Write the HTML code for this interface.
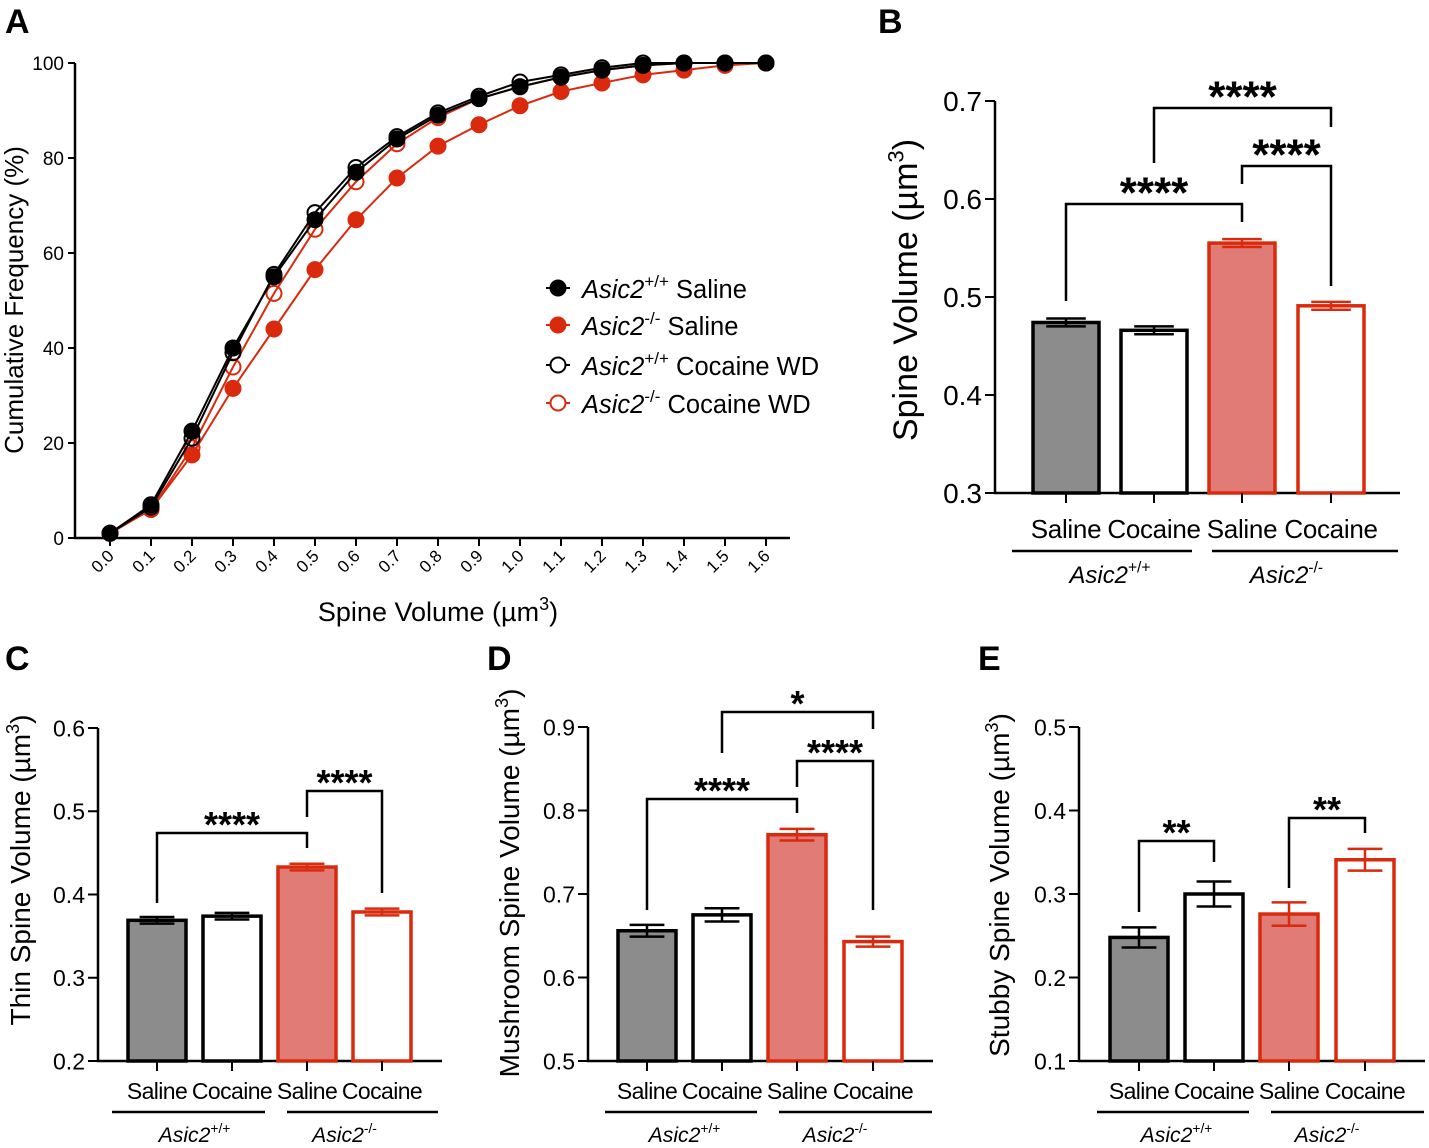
<!DOCTYPE html>
<html><head><meta charset="utf-8"><style>
body{margin:0;background:#fff;}
svg{display:block;font-family:"Liberation Sans",Arial,sans-serif;}
</style></head><body>
<svg id="fig" width="1429" height="1148" viewBox="0 0 1429 1148"></svg>
<script>
// ---- Panel A data ----
const xValsA = [0.0,0.1,0.2,0.3,0.4,0.5,0.6,0.7,0.8,0.9,1.0,1.1,1.2,1.3,1.4,1.5,1.6];
const wtSaline = [1,7,22.5,40,55,67,77,84,89,92.5,95,97,98.5,99.5,100,100,100];
const wtCocaine = [1,6.5,21,39,55.5,68.5,78,84.5,89.5,93,96,97.5,99,100,100,100,100];
const koCocaine = [1,6,19,36,51.5,65,75,83,88.5,92.5,95,97,98.5,99.5,100,100,100];
const koSaline = [1,6,17.5,31.5,44,56.5,67,75.8,82.5,87,91,94,95.8,97.5,98.5,99.5,100];
const yTicksA = [0,20,40,60,80,100];
const xTickLabelsA = ["0.0","0.1","0.2","0.3","0.4","0.5","0.6","0.7","0.8","0.9","1.0","1.1","1.2","1.3","1.4","1.5","1.6"];
// ---- Bar panels data ----
const barCats = ["Saline","Cocaine","Saline","Cocaine"];
const valsB = [0.474,0.466,0.555,0.491];
const errB = [0.004,0.004,0.004,0.004];
const ticksB = [0.3,0.4,0.5,0.6,0.7];
const valsC = [0.369,0.374,0.433,0.379];
const errC = [0.004,0.004,0.004,0.004];
const ticksC = [0.2,0.3,0.4,0.5,0.6];
const valsD = [0.656,0.675,0.771,0.643];
const errD = [0.007,0.008,0.007,0.006];
const ticksD = [0.5,0.6,0.7,0.8,0.9];
const valsE = [0.248,0.300,0.276,0.341];
const errE = [0.012,0.015,0.014,0.013];
const ticksE = [0.1,0.2,0.3,0.4,0.5];

const NS="http://www.w3.org/2000/svg";
const svg=document.getElementById('fig');
const RED="#d92a0e", PINK="#e07b76", GRAY="#8c8c8c";
function el(tag,attrs,parent,text){const e=document.createElementNS(NS,tag);for(const k in attrs)e.setAttribute(k,attrs[k]);if(text!==undefined)e.textContent=text;(parent||svg).appendChild(e);return e;}

// panel letters
[["A",5,33],["B",878,33],["C",5,670],["D",487,670],["E",978,670]].forEach(p=>{
  const t=el('text',{x:p[1],y:p[2],'font-size':34,'font-weight':'bold'},svg,p[0]);
  
  
});

// ---- Panel A ----
(function(){
  const g=el('g',{});
  
  
  const x=v=>110+(v/0.1)*41, y=v=>538-v*4.75;
  const ax=el('path',{d:`M75,63 V538 H790`,stroke:'#000','stroke-width':2.5,fill:'none'},g);
  
  
  yTicksA.forEach(v=>{
    el('line',{x1:68,x2:75,y1:y(v),y2:y(v),stroke:'#000','stroke-width':2},g);
    const t=el('text',{x:64,y:y(v)+7,'font-size':19,'text-anchor':'end'},g,String(v));
    
    
  });
  xValsA.forEach((v,i)=>{
    el('line',{x1:x(v),x2:x(v),y1:538,y2:546,stroke:'#000','stroke-width':2},g);
    const t=el('text',{x:x(v)+5,y:557,'font-size':17,'text-anchor':'end',transform:`rotate(-45 ${x(v)+5} 557)`},g,xTickLabelsA[i]);
    
    
  });
  const yt=el('text',{x:0,y:0,'font-size':26,'text-anchor':'middle',transform:'translate(23 300) rotate(-90)'},g,'Cumulative Frequency (%)');
  
  
  const xt=el('text',{x:438,y:621,'font-size':27,'text-anchor':'middle'},g);
  
  
  xt.innerHTML='Spine Volume (µm<tspan dy="-11" font-size="18">3</tspan><tspan dy="11">)</tspan>';
  const series=[[koSaline,RED,true,'ko-saline'],[koCocaine,RED,false,'ko-cocaine'],[wtSaline,'#000',true,'wt-saline'],[wtCocaine,'#000',false,'wt-cocaine']];
  series.forEach(s=>{
    const d=s[0].map((v,i)=>(i?'L':'M')+x(xValsA[i])+','+y(v)).join(' ');
    const ln=el('path',{d,stroke:s[1],'stroke-width':2,fill:'none'},g);
    
    
    s[0].forEach((v,i)=>{
      const c=el('circle',{cx:x(xValsA[i]),cy:y(v),r:s[2]?8:7.5,fill:s[2]?s[1]:'none',stroke:s[1],'stroke-width':s[2]?1:2},g);
      
      
    });
  });
  const leg=[['#000',true,'+/+','Saline',290],[RED,true,'-/-','Saline',327],['#000',false,'+/+','Cocaine WD',367],[RED,false,'-/-','Cocaine WD',405]];
  leg.forEach((L,i)=>{
    const lg=el('g',{},g);
    
    
    el('line',{x1:546,x2:570,y1:L[4]-2,y2:L[4]-2,stroke:L[0],'stroke-width':2},lg);
    el('circle',{cx:558,cy:L[4]-2,r:L[1]?8:7.5,fill:L[1]?L[0]:'#fff',stroke:L[0],'stroke-width':L[1]?1:2},lg);
    const t=el('text',{x:582,y:L[4]+8,'font-size':25.5},lg);
    t.innerHTML=`<tspan font-style="italic">Asic2</tspan><tspan font-size="17" dy="-11">${L[2]}</tspan><tspan dy="11"> ${L[3]}</tspan>`;
  });
})();

// ---- Bar panel helper ----
function barPanel(cfg){
  const g=el('g',{});
  
  
  const [lo,hi]=[cfg.ticks[0],cfg.ticks[cfg.ticks.length-1]];
  const y=v=>cfg.yb-(v-lo)/(hi-lo)*(cfg.yb-cfg.yt);
  const ax=el('path',{d:`M${cfg.ax},${cfg.yt} V${cfg.yb} H${cfg.axEnd}`,stroke:'#000','stroke-width':2.5,fill:'none'},g);
  
  
  cfg.ticks.forEach(v=>{
    el('line',{x1:cfg.ax-10,x2:cfg.ax,y1:y(v),y2:y(v),stroke:'#000','stroke-width':2},g);
    const t=el('text',{x:cfg.ax-13,y:y(v)+cfg.tf*0.36,'font-size':cfg.tf,'text-anchor':'end'},g,v.toFixed(1));
    
    
  });
  const yt=el('text',{x:0,y:0,'font-size':cfg.titleF,'text-anchor':'middle',transform:`translate(${cfg.titleX} ${cfg.titleY}) rotate(-90)`},g);
  
  
  yt.innerHTML=cfg.title+' (µm<tspan dy="-'+(cfg.titleF*0.4)+'" font-size="'+(cfg.titleF*0.65)+'">3</tspan><tspan dy="'+(cfg.titleF*0.4)+'">)</tspan>';
  const fills=[GRAY,'#fff',PINK,'#fff'], strokes=['#000','#000',RED,RED];
  cfg.vals.forEach((v,i)=>{
    const cx=cfg.cx[i], w=cfg.bw;
    const b=el('rect',{x:cx-w/2,y:y(v),width:w,height:cfg.yb-y(v),fill:fills[i],stroke:strokes[i],'stroke-width':3.5},g);
    
    
    const e=cfg.err[i];
    const eb=el('path',{d:`M${cx},${y(v-e)} V${y(v+e)} M${cx-w*0.3},${y(v+e)} H${cx+w*0.3} M${cx-w*0.3},${y(v-e)} H${cx+w*0.3}`,stroke:strokes[i],'stroke-width':2.5,fill:'none'},g);
    
    
    el('line',{x1:cx,x2:cx,y1:cfg.yb,y2:cfg.yb+10,stroke:'#000','stroke-width':2},g);
    const t=el('text',{x:cx,y:cfg.yb+cfg.lblDy,'font-size':cfg.lf,'text-anchor':'middle','letter-spacing':cfg.ls},g,barCats[i]);
    
    
  });
  const gy=cfg.yb+cfg.gDy;
  [[0,1,'+/+',cfg.g1],[2,3,'-/-',cfg.g2]].forEach(p=>{
    const x1=p[3][0], x2=p[3][1];
    const l=el('line',{x1,x2,y1:gy,y2:gy,stroke:'#000','stroke-width':2.5},g);
    
    
    const t=el('text',{x:(cfg.cx[p[0]]+cfg.cx[p[1]])/2,y:gy+cfg.glDy,'font-size':cfg.lf*0.92,'text-anchor':'middle'},g);
    
    
    t.innerHTML=`<tspan font-style="italic">Asic2</tspan><tspan font-size="${cfg.lf*0.6}" dy="-${cfg.lf*0.4}">${p[2]}</tspan>`;
  });
  cfg.br.forEach(b=>{
    const x1=cfg.cx[b[0]], x2=cfg.cx[b[1]], top=b[2];
    const p=el('path',{d:`M${x1},${b[3]} V${top} H${x2} V${b[4]}`,stroke:'#000','stroke-width':2.5,fill:'none'},g);
    
    
    const t=el('text',{x:(x1+x2)/2,y:top-cfg.starOff+0.56*cfg.sf,'font-size':cfg.sf,'font-weight':'bold','text-anchor':'middle'},g,b[5]);
    
    
  });
}

barPanel({name:'panel-b-spine-volume',vals:valsB,err:errB,ticks:ticksB,ax:995,axEnd:1400,yt:101,yb:493,cx:[1066,1154,1242,1331],bw:66,tf:28,lf:26,ls:-0.3,lblDy:45,gDy:58,glDy:32,g1:[1012,1192],g2:[1212,1398],titleF:34,titleX:917,titleY:290,title:'Spine Volume',sf:44,starOff:21,
  br:[[0,2,204,301,222,'****'],[2,3,166,184,286,'****'],[1,3,108,163,127,'****']]});
barPanel({name:'panel-c-thin-spine',vals:valsC,err:errC,ticks:ticksC,ax:98,axEnd:442,yt:728,yb:1061,cx:[157,232,307,382],bw:58,tf:23,lf:23,ls:-0.6,lblDy:38,gDy:51,glDy:30,g1:[112,265],g2:[287,438],titleF:28,titleX:30,titleY:870,title:'Thin Spine Volume',sf:36,starOff:16,
  br:[[0,2,833,903,848,'****'],[2,3,791,817,893,'****']]});
barPanel({name:'panel-d-mushroom-spine',vals:valsD,err:errD,ticks:ticksD,ax:588,axEnd:933,yt:727,yb:1061,cx:[647,722,797,873],bw:58,tf:23,lf:23,ls:-0.6,lblDy:38,gDy:51,glDy:30,g1:[605,757],g2:[779,932],titleF:28,titleX:519,titleY:883,title:'Mushroom Spine Volume',sf:36,starOff:16,
  br:[[0,2,799,910,813,'****'],[2,3,761,787,910,'****'],[1,3,712,753,729,'*']]});
barPanel({name:'panel-e-stubby-spine',vals:valsE,err:errE,ticks:ticksE,ax:1079,axEnd:1425,yt:727,yb:1061,cx:[1139,1214,1289,1365],bw:58,tf:23,lf:23,ls:-0.6,lblDy:38,gDy:51,glDy:30,g1:[1097,1249],g2:[1271,1424],titleF:28,titleX:1009,titleY:885,title:'Stubby Spine Volume',sf:36,starOff:16,
  br:[[0,1,841,912,862,'**'],[2,3,818,888,833,'**']]});
</script>
</body></html>
